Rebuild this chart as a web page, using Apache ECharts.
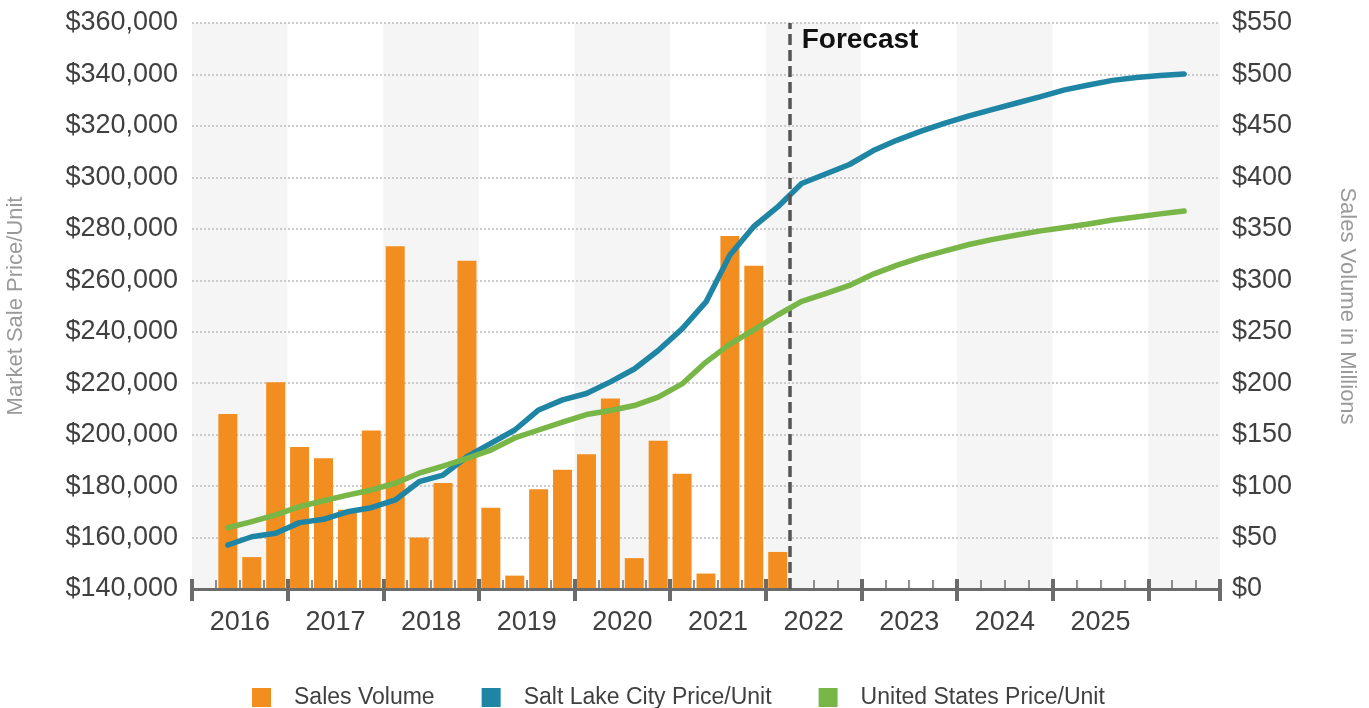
<!DOCTYPE html>
<html>
<head>
<meta charset="utf-8">
<script src="https://cdn.jsdelivr.net/npm/echarts@6/dist/echarts.min.js"></script>
<style>
  html, body { margin: 0; padding: 0; background: #ffffff; }
  #chart { width: 1369px; height: 708px; }
</style>
</head>
<body>
<div id="chart"></div>
<script>
// Quarterly timeline, 2016 Q1 through 2026 Q3
const years = ['2016', '2017', '2018', '2019', '2020', '2021', '2022', '2023', '2024', '2025', '2026'];
const quarterNames = ['Q1', 'Q2', 'Q3', 'Q4'];
const quarters = years.flatMap(y => quarterNames.map(q => y + ' ' + q)).slice(0, 43);

// First quarter carrying data, and first forecast quarter
const firstDataQuarter = '2016 Q2';
const forecastQuarter = '2022 Q2';

// Sales volume, $ millions (2016 Q2 - 2022 Q1)
const salesVolume = [170, 31, 201, 138, 127, 77, 154, 333, 50, 103, 319, 79,
                     13, 97, 116, 131, 185, 30, 144, 112, 15, 343, 314, 36];

// Market sale price per unit, $ (2016 Q2 - 2026 Q2)
const saltLakePrice = [157100, 160300, 161700, 165800, 167100, 170000, 171600, 174600,
                       181700, 184300, 191400, 196600, 201800, 209600, 213500, 216000,
                       220500, 225500, 232700, 241100, 251600, 269800, 280900, 288500,
                       297600, 301300, 305000, 310400, 314500, 318000, 321100, 323900,
                       326400, 328900, 331400, 334000, 335900, 337700, 338800, 339600, 340200];
const usPrice = [163800, 166200, 168800, 172000, 174300, 176500, 178500, 181100,
                 185000, 187800, 190800, 194000, 198700, 201800, 204900, 207800,
                 209400, 211300, 214600, 219700, 228200, 235200, 240700, 246500,
                 251800, 254800, 258000, 262400, 265900, 268900, 271400, 273900,
                 275900, 277600, 279200, 280500, 281900, 283400, 284600, 285800, 286900];

const seriesNames = ['Sales Volume', 'Salt Lake City Price/Unit', 'United States Price/Unit'];

// Spread a series over the full quarter axis starting at the given quarter
function alignToQuarters(values, startQuarter) {
  const start = quarters.indexOf(startQuarter);
  return quarters.map((_, i) => {
    const v = values[i - start];
    return v === undefined ? null : v;
  });
}

const AXIS_COLOR = '#6b6b6b';
const TEXT_COLOR = '#404040';
const NAME_COLOR = '#9a9a9a';
const FONT = '"Liberation Sans", Arial, sans-serif';
const isYearStart = (i) => i % 4 === 0;
const forecastIndex = quarters.indexOf(forecastQuarter);

const chart = echarts.init(document.getElementById('chart'), null, { renderer: 'canvas' });

const option = {
  animation: false,
  backgroundColor: '#ffffff',
  textStyle: { fontFamily: FONT },
  grid: { left: 192, width: 1028, top: 23, height: 566, outerBoundsMode: 'none' },
  legend: {
    data: seriesNames,
    left: 252,
    top: 686,
    padding: 0,
    icon: 'rect',
    itemWidth: 19,
    itemHeight: 19,
    itemGap: 47,
    selectedMode: false,
    textStyle: { fontSize: 23, color: TEXT_COLOR, fontFamily: FONT, padding: [0, 0, 0, 18] }
  },
  xAxis: [
    {
      // quarter axis: main line, quarter ticks and year labels
      type: 'category',
      data: quarters,
      boundaryGap: true,
      z: 3,
      axisLine: { show: true, lineStyle: { color: AXIS_COLOR, width: 3 } },
      axisTick: { show: true, inside: true, length: 9, interval: 0, lineStyle: { color: AXIS_COLOR, width: 1.5 } },
      axisLabel: {
        show: true,
        interval: (i) => i % 4 === 1 && i < 40,
        formatter: (v) => v.slice(0, 4),
        fontSize: 27,
        color: TEXT_COLOR,
        fontFamily: FONT,
        margin: 20,
        padding: [0, 0, 0, 24]
      },
      splitLine: { show: false },
      splitArea: { show: false }
    },
    {
      // year boundaries: long ticks crossing the axis line and alternating bands
      type: 'category',
      data: quarters,
      boundaryGap: true,
      position: 'bottom',
      offset: -10,
      z: 0,
      axisLine: { show: false },
      axisTick: { show: true, interval: isYearStart, length: 22, lineStyle: { color: AXIS_COLOR, width: 4 } },
      axisLabel: { show: false },
      splitLine: { show: false },
      splitArea: { show: true, interval: isYearStart, areaStyle: { color: ['#f5f5f5', '#ffffff'] } }
    },
    {
      // continuous quarter scale for the forecast divider
      type: 'value',
      min: 0,
      max: quarters.length,
      show: false
    }
  ],
  yAxis: [
    {
      type: 'value',
      position: 'left',
      min: 140000,
      max: 360000,
      interval: 20000,
      z: 2,
      name: 'Market Sale Price/Unit',
      nameLocation: 'middle',
      nameGap: 165,
      nameTextStyle: { fontSize: 22, color: NAME_COLOR, fontFamily: FONT },
      axisLine: { show: false },
      axisTick: { show: false },
      axisLabel: {
        fontSize: 27,
        color: TEXT_COLOR,
        fontFamily: FONT,
        margin: 14,
        formatter: (v) => '$' + v.toLocaleString('en-US')
      },
      splitLine: { show: true, lineStyle: { color: '#bcbcbc', width: 1.5, type: [2, 2] } }
    },
    {
      type: 'value',
      position: 'right',
      min: 0,
      max: 550,
      interval: 50,
      name: 'Sales Volume in Millions',
      nameLocation: 'middle',
      nameRotate: -90,
      nameGap: 116,
      nameTextStyle: { fontSize: 22, color: NAME_COLOR, fontFamily: FONT },
      axisLine: { show: false },
      axisTick: { show: false },
      axisLabel: {
        fontSize: 27,
        color: TEXT_COLOR,
        fontFamily: FONT,
        margin: 12,
        formatter: (v) => '$' + v
      },
      splitLine: { show: false }
    }
  ],
  series: [
    {
      name: seriesNames[0],
      type: 'bar',
      xAxisIndex: 0,
      yAxisIndex: 1,
      barWidth: 19,
      itemStyle: { color: '#f28e1f' },
      data: alignToQuarters(salesVolume, firstDataQuarter),
      z: 2
    },
    {
      name: seriesNames[1],
      type: 'line',
      xAxisIndex: 0,
      yAxisIndex: 0,
      symbol: 'none',
      lineStyle: { color: '#1f85a5', width: 5.5, cap: 'round', join: 'round' },
      itemStyle: { color: '#1f85a5' },
      data: alignToQuarters(saltLakePrice, firstDataQuarter),
      z: 4
    },
    {
      name: seriesNames[2],
      type: 'line',
      xAxisIndex: 0,
      yAxisIndex: 0,
      symbol: 'none',
      lineStyle: { color: '#78b648', width: 5.5, cap: 'round', join: 'round' },
      itemStyle: { color: '#78b648' },
      data: alignToQuarters(usPrice, firstDataQuarter),
      z: 5
    },
    {
      // forecast divider at the start of the first forecast quarter
      type: 'line',
      xAxisIndex: 2,
      yAxisIndex: 0,
      data: [],
      silent: true,
      z: 6,
      markLine: {
        silent: true,
        symbol: 'none',
        label: { show: false },
        lineStyle: { color: '#555555', width: 3.5, type: [11, 5] },
        data: [{ xAxis: forecastIndex }]
      }
    }
  ]
};

chart.setOption(option);

// "Forecast" caption placed just right of the divider
const dividerX = chart.convertToPixel({ xAxisIndex: 2 }, forecastIndex);
chart.setOption({
  graphic: [{
    type: 'text',
    x: dividerX + 12,
    y: 40,
    style: {
      text: 'Forecast',
      font: 'bold 28px ' + FONT,
      fill: '#111111',
      verticalAlign: 'middle',
      align: 'left'
    },
    z: 10
  }]
});
</script>
</body>
</html>
